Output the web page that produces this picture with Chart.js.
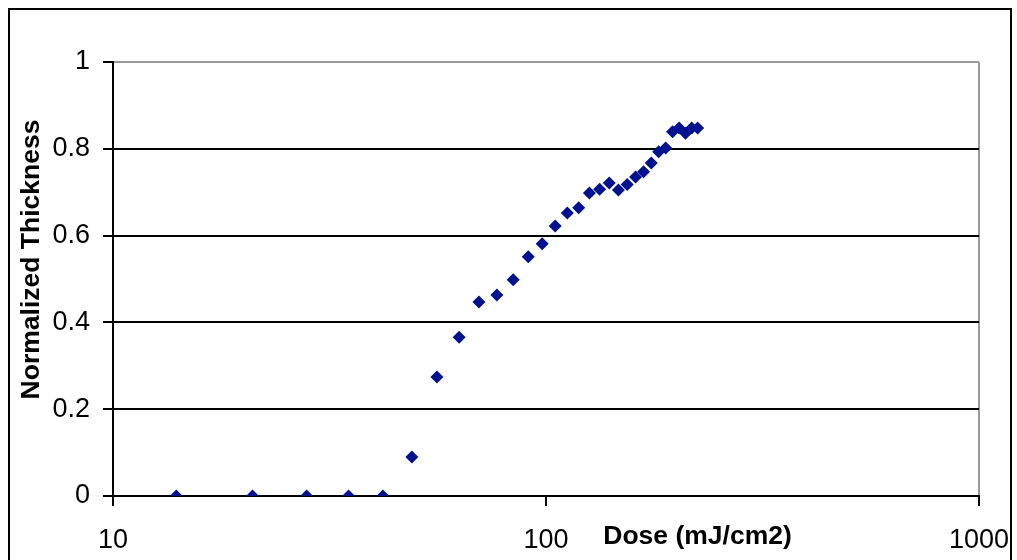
<!DOCTYPE html>
<html>
<head>
<meta charset="utf-8">
<script src="https://cdn.jsdelivr.net/npm/chart.js@4/dist/chart.umd.min.js"></script>
<style>
	body { margin: 0; background: #fff; }
	#wrap { position: relative; width: 1017px; height: 560px; overflow: hidden; }
	#frame { position: absolute; left: 8px; top: 8px; width: 1000px; height: 600px; border: 2px solid #000; }
	#doseChart { position: absolute; left: 0; top: 0; }
</style>
</head>
<body>
<div id="wrap">
	<div id="frame"></div>
	<canvas id="doseChart" width="1017" height="560"></canvas>
</div>
<script>
// dose in mJ/cm2
var doses = [ 14, 21, 28, 35, 42, 49, 56, 63, 70, 77, 84, 91, 98, 105, 112,
		119, 126, 133, 140, 147, 154, 161, 168, 175, 182, 189, 196, 203, 210,
		217, 224 ];

// normalized thickness
var thickness = [ 0, 0, 0, 0, 0, 0.09, 0.274, 0.366, 0.447, 0.463, 0.498,
		0.551, 0.581, 0.622, 0.652, 0.664, 0.698, 0.707, 0.721, 0.705, 0.718,
		0.735, 0.747, 0.767, 0.793, 0.802, 0.839, 0.848, 0.836, 0.848, 0.848 ];

var xTicks = [ 10, 100, 1000 ];
var yTicks = [ 0, 0.2, 0.4, 0.6, 0.8, 1 ];

var xTitle = 'Dose (mJ/cm2)';
var yTitle = 'Normalized Thickness';

var chart = {

	createChartData : function() {

		var points = [];

		for (var i = 0; i < doses.length; i++) {
			points.push({ x : doses[i], y : thickness[i] });
		}

		return {
			datasets : [ {
				data : points,
				pointStyle : 'rectRot',
				pointRadius : 6.5,
				pointHoverRadius : 6.5,
				backgroundColor : '#00128f',
				borderColor : '#00128f',
				borderWidth : 0,
				showLine : false
			} ]
		};
	},

	// axis titles sit where Excel put them, so they are drawn here
	titlePlugin : {
		id : 'axisTitles',
		afterDraw : function(c) {
			var ctx = c.ctx, area = c.chartArea;
			ctx.save();
			ctx.fillStyle = '#000';
			ctx.font = 'bold 26.5px "Liberation Sans", Arial, sans-serif';
			ctx.textAlign = 'center';
			ctx.textBaseline = 'middle';
			ctx.fillText(xTitle, area.left + (area.right - area.left) * 0.675,
					area.bottom + 41);
			ctx.translate(area.left - 81, area.top + (area.bottom - area.top) * 0.455);
			ctx.rotate(-Math.PI / 2);
			ctx.fillText(yTitle, 0, 0);
			ctx.restore();
		}
	},

	renderChart : function(chartData) {

		var context2D = document.getElementById("doseChart").getContext("2d");

		Chart.defaults.font.family = '"Liberation Sans", Arial, sans-serif';
		Chart.defaults.color = '#000';

		return new Chart(context2D, {
			type : 'scatter',
			data : chartData,
			plugins : [ chart.titlePlugin ],
			options : {
				responsive : false,
				animation : false,
				layout : {
					padding : { top : 62, right : 38, left : 0, bottom : 0 }
				},
				plugins : {
					legend : { display : false },
					tooltip : { enabled : false }
				},
				scales : {
					x : {
						type : 'logarithmic',
						min : 10,
						max : 1000,
						afterBuildTicks : function(s) {
							s.ticks = xTicks.map(function(v) { return { value : v }; });
						},
						afterFit : function(s) {
							s.height = 64;
							s.paddingLeft = 0;
							s.paddingRight = 0;
						},
						ticks : {
							font : { size : 27 },
							padding : 18,
							maxRotation : 0,
							autoSkip : false,
							callback : function(v) { return String(v); }
						},
						grid : {
							color : function(ctx) {
								return ctx.tick && ctx.tick.value === 1000 ? '#999' : 'rgba(0,0,0,0)';
							},
							tickColor : '#000',
							tickLength : 10,
							lineWidth : 2
						},
						border : { display : true, color : '#000', width : 2 }
					},
					y : {
						min : 0,
						max : 1,
						afterBuildTicks : function(s) {
							s.ticks = yTicks.map(function(v) { return { value : v }; });
						},
						afterFit : function(s) {
							s.width = 113;
							s.paddingTop = 0;
							s.paddingBottom = 0;
						},
						ticks : {
							font : { size : 27 },
							padding : 13,
							color : '#000',
							callback : function(v) { return String(v); }
						},
						grid : {
							color : function(ctx) {
								return ctx.tick && ctx.tick.value === 1 ? '#999' : '#000';
							},
							tickColor : '#000',
							tickLength : 10,
							lineWidth : 2
						},
						border : { display : true, color : '#000', width : 2 }
					}
				}
			}
		});
	},

	initChart : function() {
		var chartData = chart.createChartData();
		chart.renderChart(chartData);
	}
};

chart.initChart();
</script>
</body>
</html>
